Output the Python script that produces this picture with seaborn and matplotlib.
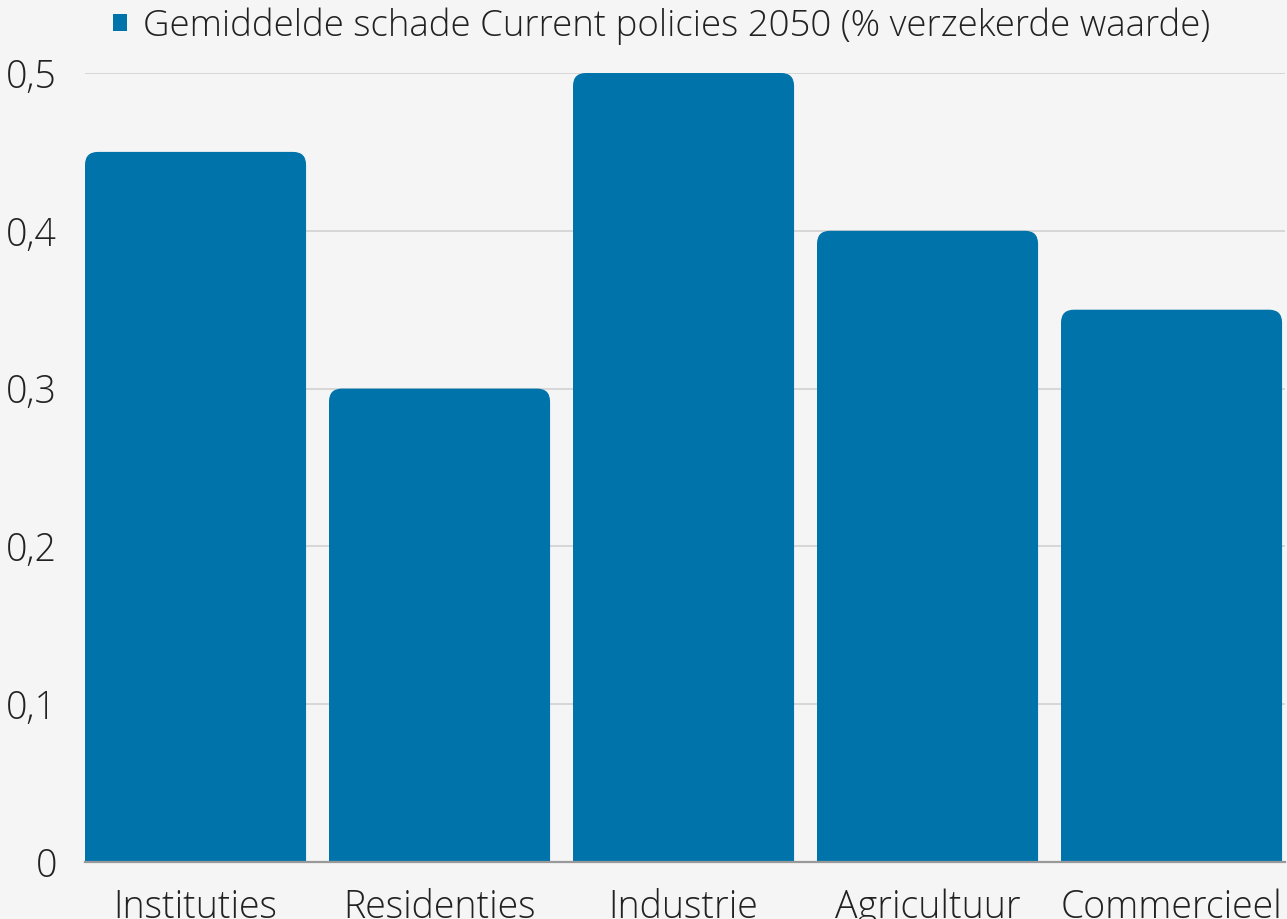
import matplotlib
matplotlib.use('Agg')
import matplotlib.pyplot as plt
import seaborn as sns
from matplotlib.path import Path
from matplotlib.patches import PathPatch, Patch

# Data
categories = ['Instituties', 'Residenties', 'Industrie', 'Agricultuur', 'Commercieel']
values = [0.45, 0.30, 0.50, 0.40, 0.35]
yticks = [0, 0.1, 0.2, 0.3, 0.4, 0.5]
series_label = 'Gemiddelde schade Current policies 2050 (% verzekerde waarde)'

bar_color = '#0073aa'
bg = '#f5f5f5'

sns.set_style('white')
plt.rcParams['font.family'] = ['Open Sans', 'DejaVu Sans']
plt.rcParams['font.weight'] = 'light'

fig = plt.figure(figsize=(12.87, 9.19), dpi=100, facecolor=bg)
ax = fig.add_axes([85 / 1287, 57 / 919, 1200 / 1287, 789 / 919])
ax.set_facecolor(bg)

sns.barplot(x=categories, y=values, color=bar_color, width=0.906, saturation=1, ax=ax)

ax.set_xlim(-0.453, 4.465)
ax.set_ylim(0, 0.5)
ax.set_yticks(yticks)
ax.set_yticklabels([('%g' % t).replace('.', ',') for t in yticks])
ax.yaxis.grid(True, color='#d4d4d4', linewidth=1.3)
ax.set_axisbelow(True)
ax.tick_params(axis='both', length=0, labelsize=27, labelcolor='#222222')
ax.tick_params(axis='y', pad=20)
ax.tick_params(axis='x', pad=19)
for s in ['top', 'right', 'left']:
    ax.spines[s].set_visible(False)
ax.spines['bottom'].set_color('#999999')
ax.spines['bottom'].set_linewidth(1.6)
ax.spines['bottom'].set_zorder(5)
ax.set_xlabel('')
ax.set_ylabel('')

# round the top corners of each bar
r_px = 13
p0 = ax.transData.transform((0, 0))
p1 = ax.transData.transform((1, 1))
rx = r_px / (p1[0] - p0[0])
ry = r_px / (p1[1] - p0[1])
for bar in list(ax.patches):
    x0 = bar.get_x()
    w = bar.get_width()
    h = bar.get_height()
    x1 = x0 + w
    verts = [(x0, 0), (x0, h - ry), (x0, h), (x0 + rx, h),
             (x1 - rx, h), (x1, h), (x1, h - ry), (x1, 0), (x0, 0)]
    codes = [Path.MOVETO, Path.LINETO, Path.CURVE3, Path.CURVE3,
             Path.LINETO, Path.CURVE3, Path.CURVE3, Path.LINETO, Path.CLOSEPOLY]
    ax.add_patch(PathPatch(Path(verts, codes), facecolor=bar_color, edgecolor='none', zorder=3))
    bar.remove()

handle = Patch(facecolor=bar_color, edgecolor='none')
fig.legend([handle], [series_label], loc='upper left', bbox_to_anchor=(106 / 1287, 1.0),
           frameon=False, fontsize=26.4, handlelength=0.36, handleheight=0.36,
           handletextpad=0.45, borderaxespad=0, borderpad=0.2, labelcolor='#222222')

fig.savefig('out.png', dpi=100, facecolor=bg)
